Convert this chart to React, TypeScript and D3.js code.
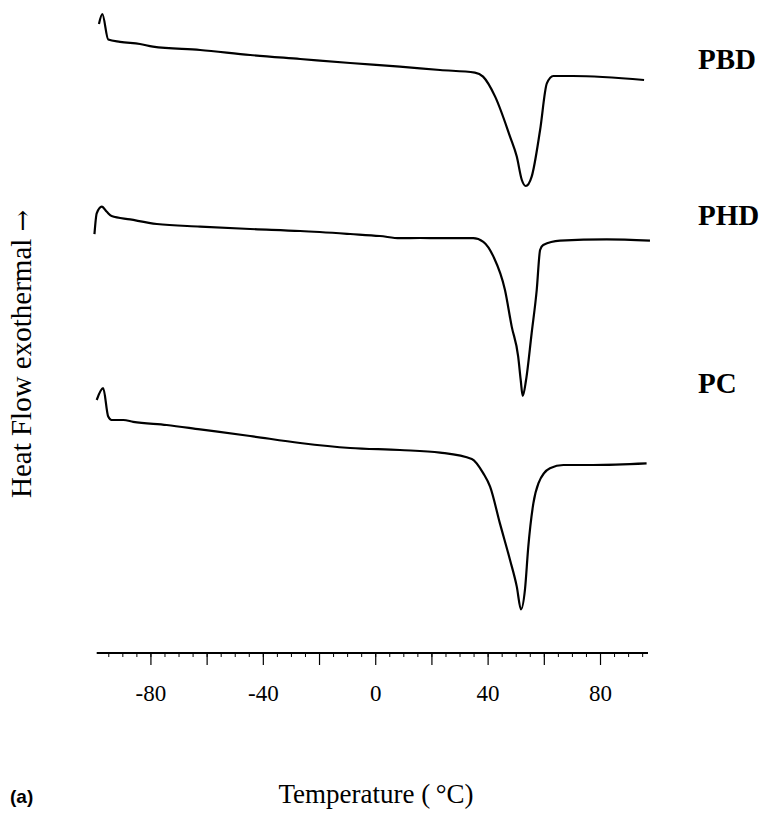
import React from "react";
import * as d3 from "d3";

// Temperature (°C) and heat flow (arbitrary units, exothermal up, stacked offsets)
const pbdT = [-98.5, -97.3, -95.2, -91.0, -83.9, -79.3, -62.5, -44.7, -26.9, -9.1, 8.6, 22.9, 35.3, 38.2, 42.5, 47.8, 50.2, 52.0, 53.4, 55.5, 58.5, 60.9, 63.2, 70.2, 95.5];
const pbdH = [157.25, 159.7, 153.4, 152.8, 152.25, 151.6, 150.75, 149.5, 148.5, 147.5, 146.6, 145.75, 145.1, 144.1, 139.1, 129.1, 124.1, 118.25, 116.75, 119.1, 130.75, 142.4, 144.25, 144.25, 143.25];

const phdT = [-100.1, -99.3, -97.5, -95.7, -94.0, -87.4, -77.9, -62.5, -44.7, -26.9, -9.1, 1.5, 8.6, 15.8, 22.9, 34.7, 38.3, 41.9, 46.0, 48.4, 50.7, 51.6, 52.3, 53.5, 55.5, 57.3, 58.5, 59.6, 65.6, 82.2, 97.6];
const phdH = [104.7, 109.9, 111.6, 110.3, 109.25, 108.4, 107.25, 106.6, 106.0, 105.5, 104.75, 104.25, 103.7, 103.75, 103.7, 103.7, 102.8, 99.1, 90.75, 81.6, 74.1, 68.25, 64.25, 68.25, 80.0, 90.75, 100.75, 102.0, 103.1, 103.4, 103.1];

const pcT = [-99.3, -97.0, -95.2, -94.0, -89.8, -86.3, -74.4, -62.5, -44.7, -26.9, -9.1, 8.6, 22.9, 34.2, 38.3, 40.7, 44.2, 47.8, 50.2, 51.7, 53.1, 54.3, 56.1, 57.9, 62.0, 66.8, 77.4, 96.4];
const pcH = [63.25, 66.2, 59.1, 58.25, 58.25, 57.8, 57.0, 55.9, 54.25, 52.5, 51.25, 50.75, 50.1, 48.5, 44.9, 41.6, 32.4, 23.25, 16.6, 10.9, 15.75, 26.6, 37.4, 42.4, 46.2, 47.0, 47.0, 47.4];

const seriesNames = ["PBD", "PHD", "PC"];
const seriesLabelH = [146, 107, 65];

const majorTicks = [-80, -60, -40, -20, 0, 20, 40, 60, 80];
const minorTicks = d3.range(-95, 96, 5);
const tickLabels = [-80, -40, 0, 40, 80];

export default function App() {
  const W = 774, H = 813;
  const x = d3.scaleLinear().domain([-99.3, 96.9]).range([96.7, 648]);
  const y = d3.scaleLinear().domain([0, 160]).range([653, 13]);
  const axisY = y(0);

  const line = d3
    .line<[number, number]>()
    .x((d) => x(d[0]))
    .y((d) => y(d[1]))
    .curve(d3.curveMonotoneX);

  const series: [number, number][][] = [
    pbdT.map((t, i) => [t, pbdH[i]]),
    phdT.map((t, i) => [t, phdH[i]]),
    pcT.map((t, i) => [t, pcH[i]]),
  ];

  const serif = "'Liberation Serif', 'Times New Roman', serif";

  return (
    <svg width={W} height={H} style={{ position: "absolute", left: 0, top: 0, background: "#fff" }}>
      {series.map((s, i) => (
        <path key={i} d={line(s) || ""} fill="none" stroke="#000" strokeWidth={2.2} strokeLinejoin="round" />
      ))}
      {seriesNames.map((n, i) => (
        <text key={n} x={698} y={y(seriesLabelH[i])} fontFamily={serif} fontWeight="bold" fontSize={29} fill="#000">
          {n}
        </text>
      ))}
      {/* x axis */}
      <line x1={x.range()[0]} x2={x.range()[1]} y1={axisY} y2={axisY} stroke="#000" strokeWidth={2} />
      {minorTicks.map((t) => (
        <line key={"m" + t} x1={x(t)} x2={x(t)} y1={axisY} y2={axisY + 4} stroke="#000" strokeWidth={1} />
      ))}
      {majorTicks.map((t) => (
        <line key={"M" + t} x1={x(t)} x2={x(t)} y1={axisY} y2={axisY + 12} stroke="#000" strokeWidth={1.2} />
      ))}
      {tickLabels.map((t) => (
        <text key={"l" + t} x={x(t)} y={701} textAnchor="middle" fontFamily={serif} fontSize={23} fill="#000">
          {t}
        </text>
      ))}
      <text x={376} y={803} textAnchor="middle" fontFamily={serif} fontSize={27} fill="#000">
        Temperature ({"\u2009"}°C)
      </text>
      <text x={10} y={803} fontFamily="'Liberation Sans', Arial, sans-serif" fontWeight="bold" fontSize={19} fill="#000">
        (a)
      </text>
      <text
        transform={`translate(31, 498) rotate(-90)`}
        fontFamily={serif}
        fontSize={29}
        fill="#000"
      >
        Heat Flow exothermal <tspan fontFamily="'DejaVu Serif', serif" fontSize={26}>→</tspan>
      </text>
    </svg>
  );
}
